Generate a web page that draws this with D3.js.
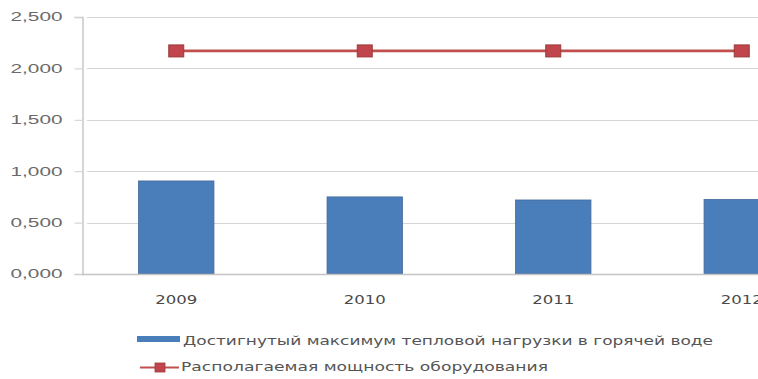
<!DOCTYPE html>
<html>
<head>
<meta charset="utf-8">
<script src="https://cdn.jsdelivr.net/npm/d3@7"></script>
<style>
  html, body { margin: 0; padding: 0; background: #fff; }
  svg { display: block; font-family: "DejaVu Sans", Verdana, sans-serif; }
</style>
</head>
<body>
<svg id="chart" width="758" height="379"></svg>
<script>
// Years on the category axis
const years = ["2009", "2010", "2011", "2012"];
// Achieved peak heat load in hot water
const peakLoad = [0.905, 0.75, 0.72, 0.725];
// Available equipment capacity
const capacity = [2.17, 2.17, 2.17, 2.17];
// Value-axis ticks
const yTicks = [0, 0.5, 1.0, 1.5, 2.0, 2.5];
const seriesNames = [
  "Достигнутый максимум тепловой нагрузки в горячей воде",
  "Располагаемая мощность оборудования"
];

const svg = d3.select("#chart");
const plotLeft = 82, plotTop = 17, plotBottom = 274, step = 188.5;

const x = d3.scaleBand()
  .domain(years)
  .range([plotLeft, plotLeft + step * years.length])
  .paddingInner(0.6)
  .paddingOuter(0.3);

const y = d3.scaleLinear().domain([0, 2.5]).range([plotBottom, plotTop]);

const fmt = v => d3.format(".3f")(v).replace(".", ",");

// horizontal gridlines
svg.append("g")
  .selectAll("line")
  .data(yTicks)
  .join("line")
  .attr("x1", plotLeft + 5)
  .attr("x2", 758)
  .attr("y1", d => Math.round(y(d)) + 0.5)
  .attr("y2", d => Math.round(y(d)) + 0.5)
  .attr("stroke", "#d4d4d4")
  .attr("stroke-width", 1.2);

// value axis
const yAxis = svg.append("g")
  .attr("transform", `translate(${plotLeft + 0.5},0)`)
  .call(d3.axisLeft(y).tickValues(yTicks).tickSize(8).tickPadding(12).tickFormat(fmt));
yAxis.select(".domain").attr("stroke", "#c8c8c8").attr("stroke-width", 1.5);
yAxis.selectAll(".tick line").attr("stroke", "#cfcfcf");
yAxis.selectAll(".tick text")
  .attr("fill", "#6a6a6a")
  .attr("font-size", 12)
  .attr("textLength", 52)
  .attr("lengthAdjust", "spacingAndGlyphs")
  .attr("x", -20);

// bars
svg.append("g")
  .selectAll("rect")
  .data(years.map((yr, i) => ({ yr, v: peakLoad[i] })))
  .join("rect")
  .attr("x", d => x(d.yr))
  .attr("width", x.bandwidth())
  .attr("y", d => y(d.v))
  .attr("height", d => y(0) - y(d.v))
  .attr("fill", "#4a7ebb")
  .attr("stroke", "#44689a")
  .attr("stroke-width", 0.8);

// baseline
svg.append("line")
  .attr("x1", plotLeft).attr("x2", 758)
  .attr("y1", Math.round(y(0)) + 0.5).attr("y2", Math.round(y(0)) + 0.5)
  .attr("stroke", "#c4c4c4").attr("stroke-width", 1.5);

// category labels
svg.append("g")
  .selectAll("text")
  .data(years)
  .join("text")
  .attr("x", d => x(d) + x.bandwidth() / 2)
  .attr("y", 304)
  .attr("text-anchor", "middle")
  .attr("font-size", 12)
  .attr("fill", "#4a4a4a")
  .attr("textLength", 42)
  .attr("lengthAdjust", "spacingAndGlyphs")
  .text(d => d);

// capacity line with square markers
const cx = d => x(d) + x.bandwidth() / 2;
const line = d3.line().x(d => cx(d.yr)).y(d => y(d.v));
const capData = years.map((yr, i) => ({ yr, v: capacity[i] }));
svg.append("path")
  .datum(capData)
  .attr("d", line)
  .attr("fill", "none")
  .attr("stroke", "#c0504d")
  .attr("stroke-width", 2.6);
svg.append("g")
  .selectAll("rect")
  .data(capData)
  .join("rect")
  .attr("x", d => cx(d.yr) - 7.5)
  .attr("y", d => y(d.v) - 6)
  .attr("width", 15)
  .attr("height", 12)
  .attr("fill", "#c0454d")
  .attr("stroke", "#9a3a3a")
  .attr("stroke-width", 1);

// legend
const legend = svg.append("g");
legend.append("rect")
  .attr("x", 137).attr("y", 336).attr("width", 43).attr("height", 6)
  .attr("fill", "#4a7ebb");
legend.append("text")
  .attr("x", 183).attr("y", 345)
  .attr("font-size", 12).attr("fill", "#555555")
  .attr("textLength", 530).attr("lengthAdjust", "spacingAndGlyphs")
  .text(seriesNames[0]);

legend.append("line")
  .attr("x1", 140).attr("x2", 179).attr("y1", 367.5).attr("y2", 367.5)
  .attr("stroke", "#c0504d").attr("stroke-width", 2);
legend.append("rect")
  .attr("x", 155).attr("y", 363).attr("width", 10).attr("height", 9)
  .attr("fill", "#c0454d").attr("stroke", "#9a3a3a").attr("stroke-width", 0.8);
legend.append("text")
  .attr("x", 181).attr("y", 371)
  .attr("font-size", 12).attr("fill", "#555555")
  .attr("textLength", 367).attr("lengthAdjust", "spacingAndGlyphs")
  .text(seriesNames[1]);
</script>
</body>
</html>
